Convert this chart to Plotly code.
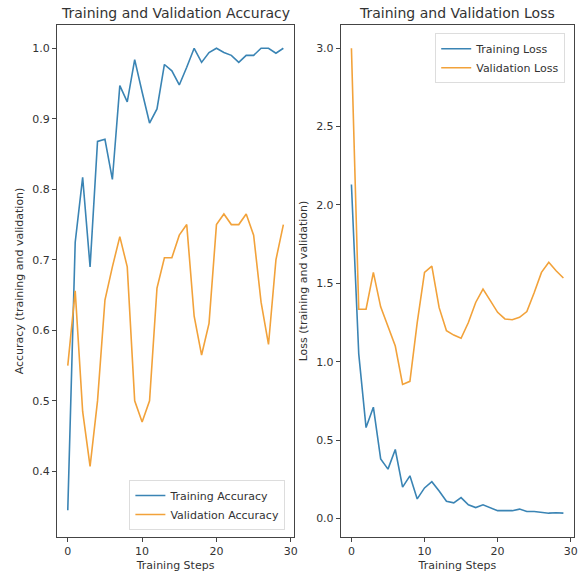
import plotly.graph_objects as go

steps = list(range(30))

train_acc = [0.345, 0.725, 0.817, 0.69, 0.868, 0.871, 0.814, 0.947, 0.924, 0.984,
             0.938, 0.894, 0.914, 0.977, 0.968, 0.948, 0.973, 1.0, 0.98, 0.994,
             1.0, 0.994, 0.99, 0.98, 0.99, 0.99, 1.0, 1.0, 0.993, 1.0]
val_acc = [0.55, 0.656, 0.485, 0.407, 0.50, 0.643, 0.69, 0.733, 0.69, 0.50,
           0.47, 0.50, 0.66, 0.703, 0.703, 0.735, 0.75, 0.62, 0.565, 0.61,
           0.75, 0.765, 0.75, 0.75, 0.765, 0.735, 0.64, 0.58, 0.70, 0.75]

train_loss = [2.13, 1.05, 0.58, 0.71, 0.38, 0.315, 0.44, 0.20, 0.272, 0.125,
              0.195, 0.235, 0.175, 0.11, 0.10, 0.133, 0.088, 0.07, 0.087, 0.07,
              0.05, 0.05, 0.05, 0.06, 0.045, 0.045, 0.04, 0.034, 0.037, 0.034]
val_loss = [3.0, 1.335, 1.335, 1.57, 1.35, 1.23, 1.10, 0.855, 0.875, 1.25,
            1.57, 1.61, 1.345, 1.198, 1.17, 1.15, 1.25, 1.378, 1.464, 1.39,
            1.315, 1.273, 1.268, 1.283, 1.32, 1.44, 1.57, 1.634, 1.58, 1.534]

x_ticks = [0, 10, 20, 30]
acc_ticks = [0.4, 0.5, 0.6, 0.7, 0.8, 0.9, 1.0]
loss_ticks = [0.0, 0.5, 1.0, 1.5, 2.0, 2.5, 3.0]

BLUE = "#3a84b4"
ORANGE = "#f2a23a"
TXT = "#333333"
FONT = "DejaVu Sans"

fig = go.Figure()
fig.add_trace(go.Scatter(x=steps, y=train_acc, mode="lines", name="Training Accuracy",
                         line=dict(color=BLUE, width=1.6), xaxis="x", yaxis="y", legend="legend"))
fig.add_trace(go.Scatter(x=steps, y=val_acc, mode="lines", name="Validation Accuracy",
                         line=dict(color=ORANGE, width=1.6), xaxis="x", yaxis="y", legend="legend"))
fig.add_trace(go.Scatter(x=steps, y=train_loss, mode="lines", name="Training Loss",
                         line=dict(color=BLUE, width=1.6), xaxis="x2", yaxis="y2", legend="legend2"))
fig.add_trace(go.Scatter(x=steps, y=val_loss, mode="lines", name="Validation Loss",
                         line=dict(color=ORANGE, width=1.6), xaxis="x2", yaxis="y2", legend="legend2"))

axis_common = dict(showline=True, linecolor="#444444", linewidth=1, mirror=True,
                   ticks="outside", ticklen=4, tickcolor="#444444", showgrid=False,
                   zeroline=False, tickfont=dict(size=11, color=TXT, family=FONT))

fig.update_layout(
    width=579, height=581,
    margin=dict(l=57, r=1, t=25, b=44),
    paper_bgcolor="white", plot_bgcolor="white",
    font=dict(family=FONT, color=TXT, size=11),
    xaxis=dict(domain=[0, 0.4587], range=[-1.45, 30.45], tickvals=x_ticks,
               title=dict(text="Training Steps", font=dict(size=11), standoff=4), anchor="y", **axis_common),
    yaxis=dict(domain=[0, 1], range=[0.307, 1.033], tickvals=acc_ticks, tickformat=".1f",
               title=dict(text="Accuracy (training and validation)", font=dict(size=11), standoff=6),
               anchor="x", **axis_common),
    xaxis2=dict(domain=[0.549, 1.0], range=[-1.45, 30.45], tickvals=x_ticks,
                title=dict(text="Training Steps", font=dict(size=11), standoff=4), anchor="y2", **axis_common),
    yaxis2=dict(domain=[0, 1], range=[-0.118, 3.148], tickvals=loss_ticks, tickformat=".1f",
                title=dict(text="Loss (training and validation)", font=dict(size=11), standoff=6),
                anchor="x2", **axis_common),
    legend=dict(x=0.140, y=0.0137, xanchor="left", yanchor="bottom",
                bgcolor="rgba(255,255,255,0.8)", bordercolor="#dddddd", borderwidth=1,
                font=dict(size=11, color=TXT), tracegroupgap=0),
    legend2=dict(x=0.983, y=0.984, xanchor="right", yanchor="top",
                 bgcolor="rgba(255,255,255,0.8)", bordercolor="#dddddd", borderwidth=1,
                 font=dict(size=11, color=TXT), tracegroupgap=0),
    annotations=[
        dict(text="Training and Validation Accuracy", xref="paper", yref="paper",
             x=0.4587 / 2, y=1, yshift=2, xanchor="center", yanchor="bottom",
             showarrow=False, font=dict(size=14, color=TXT, family=FONT)),
        dict(text="Training and Validation Loss", xref="paper", yref="paper",
             x=(0.549 + 1.0) / 2, y=1, yshift=2, xanchor="center", yanchor="bottom",
             showarrow=False, font=dict(size=14, color=TXT, family=FONT)),
    ],
)

fig.write_html("out.html",
               config={"displayModeBar": False},
               post_script="document.body.style.margin='0';document.body.style.overflow='hidden';")
